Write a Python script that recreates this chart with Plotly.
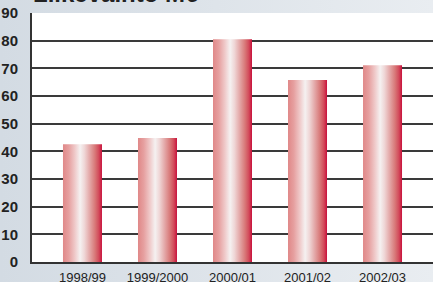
import base64
import plotly.graph_objects as go

categories = ["1998/99", "1999/2000", "2000/01", "2001/02", "2002/03"]
values = [42.6, 44.8, 80.5, 65.8, 71.1]
y_ticks = [0, 10, 20, 30, 40, 50, 60, 70, 80, 90]
title_text = "Liikevaihto M€"

W, H = 433, 282
ML, MR, MT, MB = 32, 0, 13, 20
PW, PH = W - ML - MR, H - MT - MB

bar_half = 0.26
bar_scale = [
    [0.0, "#e08888"],
    [0.15, "#e6a0a0"],
    [0.30, "#efc8c8"],
    [0.44, "#f5f1f1"],
    [0.55, "#efd6d6"],
    [0.70, "#e2a2a2"],
    [0.82, "#d87878"],
    [0.92, "#d24a5a"],
    [1.0, "#c8103c"],
]

fig = go.Figure()
for i, v in enumerate(values):
    xs = [i - bar_half, i + bar_half, i + bar_half, i - bar_half, i - bar_half]
    ys = [0, 0, v, v, 0]
    fig.add_trace(go.Scatter(
        x=xs, y=ys, mode="lines", fill="toself",
        line=dict(width=0, color="rgba(0,0,0,0)"),
        fillgradient=dict(type="horizontal", colorscale=bar_scale),
        hoverinfo="skip", showlegend=False,
    ))

svg = (
    f'<svg xmlns="http://www.w3.org/2000/svg" width="{W}" height="{H}">'
    '<defs><linearGradient id="g" x1="0" y1="0" x2="1" y2="0">'
    '<stop offset="0" stop-color="#d3dbe3"/><stop offset="1" stop-color="#e9edf1"/>'
    '</linearGradient></defs>'
    f'<rect width="{W}" height="{H}" fill="url(#g)"/></svg>'
)
src = "data:image/svg+xml;base64," + base64.b64encode(svg.encode()).decode()

fig.update_layout(
    width=W, height=H,
    margin=dict(l=ML, r=MR, t=MT, b=MB, pad=0, autoexpand=False),
    paper_bgcolor="#dde3e9",
    plot_bgcolor="white",
    showlegend=False,
    images=[dict(source=src, xref="paper", yref="paper",
                 x=-ML / PW, y=1 + MT / PH, sizex=W / PW, sizey=H / PH,
                 xanchor="left", yanchor="top", sizing="stretch", layer="below")],
    shapes=[dict(type="rect", xref="paper", yref="paper", x0=0, x1=1, y0=0, y1=1,
                 fillcolor="white", line=dict(width=0), layer="below")],
    annotations=[dict(text=f"<b>{title_text}</b>", xref="paper", yref="paper",
                      x=0, y=1, xanchor="left", yanchor="bottom", yshift=4, xshift=-1,
                      showarrow=False, font=dict(family="Arial, Liberation Sans", size=24, color="#222"))],
)
fig.update_xaxes(
    range=[-0.673, 4.673], tickvals=list(range(len(categories))), ticktext=categories,
    showgrid=False, zeroline=False, showline=True, linecolor="#333", linewidth=2,
    ticks="", ticklabelstandoff=2, automargin=False,
    tickfont=dict(family="Arial, Liberation Sans", size=13, color="#222"),
)
fig.update_yaxes(
    range=[0, 90], tickvals=y_ticks, ticktext=[f"<b>{t}</b>" for t in y_ticks],
    showgrid=True, gridcolor="#3a3a3a", gridwidth=1.5, zeroline=False,
    showline=True, linecolor="#333", linewidth=2, ticks="", ticklabelstandoff=9,
    automargin=False,
    tickfont=dict(family="Arial, Liberation Sans", size=15, color="#222"),
)
fig.write_html(
    "out.html",
    config={"displayModeBar": False},
    post_script="document.body.style.margin='0';document.body.style.overflow='hidden';",
)
